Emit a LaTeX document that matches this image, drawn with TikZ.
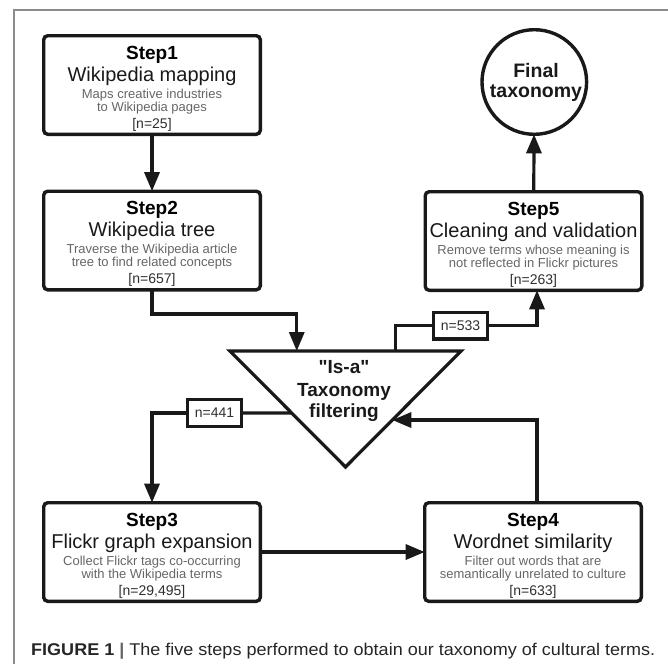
\documentclass[tikz,border=0pt]{standalone}
\usepackage{fontspec}
\setmainfont{Liberation Sans}[Ligatures=TeXOff]
\usetikzlibrary{arrows.meta,calc}

\definecolor{descgray}{gray}{0.4}
\definecolor{ngray}{gray}{0.18}
\definecolor{titlegray}{gray}{0.1}
\definecolor{framegray}{gray}{0.55}

\tikzset{
  stepbox/.style={draw=black!90, line width=3.4pt, rounded corners=4pt,
    minimum width=216.6pt, minimum height=98.6pt, inner sep=0pt, outer sep=0pt},
  lbl/.style={draw=black!90, line width=3.2pt, minimum width=53.8pt, minimum height=26.8pt,
    inner sep=0pt, outer sep=0pt, font=\fontsize{14}{14}\selectfont, text=ngray},
  conn/.style={line width=3.2pt, draw=black!90},
  arr/.style={conn, -{Triangle[length=19pt,width=15pt]}},
  tline/.style={anchor=base, inner sep=0pt, outer sep=0pt},
  stepfont/.style={font=\fontsize{19}{19}\selectfont\bfseries, text=black},
  titlefont/.style={font=\fontsize{20}{20}\selectfont, text=titlegray},
  descfont/.style={font=\fontsize{13}{13}\selectfont, text=descgray},
  nfont/.style={font=\fontsize{14}{14}\selectfont, text=ngray},
  boldfont/.style={font=\fontsize{19}{19}\selectfont\bfseries, text=titlegray},
}

% #1 name, #2 x, #3 y (centre), #4 step, #5 title, #6 desc line 1, #7 desc line 2, #8 count
\newcommand{\makestep}[8]{%
  \node[stepbox] (#1) at (#2,#3) {};
  \node[tline, stepfont] (#1st) at ($(#1.north)+(0,23.5)$) {#4};
  \node[tline, titlefont] (#1ti) at ($(#1.north)+(0,45.5)$) {#5};
  \node[tline, descfont] (#1da) at ($(#1.north)+(0,62.5)$) {#6};
  \node[tline, descfont] (#1db) at ($(#1.north)+(0,75.5)$) {#7};
  \node[tline, nfont] (#1n) at ($(#1.north)+(0,92.5)$) {#8};
}

\begin{document}
\begin{tikzpicture}[x=1pt,y=-1pt]
\useasboundingbox (0,0) rectangle (668,664);

% frame
\draw[framegray, line width=1.5pt] (14,664) -- (14,10) -- (668,10);

% step boxes
\makestep{s1}{152}{85}{Step1}{Wikipedia mapping}{Maps creative industries}{to Wikipedia pages}{[n=25]}
\makestep{s2}{152}{240.5}{Step2}{Wikipedia tree}{Traverse the Wikipedia article}{tree to find related concepts}{[n=657]}
\makestep{s3}{152}{552}{Step3}{Flickr graph expansion}{Collect Flickr tags co-occurring}{with the Wikipedia terms}{[n=29,495]}
\makestep{s4}{533}{552}{Step4}{Wordnet similarity}{Filter out words that are}{semantically unrelated to culture}{[n=633]}
\makestep{s5}{533.5}{241}{Step5}{Cleaning and validation}{Remove terms whose meaning is}{not reflected in Flickr pictures}{[n=263]}

% final circle
\node[draw=black!90, circle, line width=3.4pt, minimum size=104.6pt, inner sep=0pt, outer sep=0pt] (fin) at (534.3,82) {};
\node[tline, boldfont, font=\fontsize{19.5}{19.5}\selectfont\bfseries] (fina) at (536,77) {Final};
\node[tline, boldfont, font=\fontsize{19.5}{19.5}\selectfont\bfseries] (finb) at (536,97) {taxonomy};

% filtering triangle
\coordinate (tl) at (230,351);
\coordinate (tr) at (461,351);
\coordinate (tb) at (345.5,467);
\draw[conn, line join=miter] (tl) -- (tr) -- (tb) -- cycle;
\node[tline, boldfont] (tria) at (344,373) {"Is-a"};
\node[tline, boldfont] (trib) at (344,396) {Taxonomy};
\node[tline, boldfont] (tric) at (344,417) {filtering};

\coordinate (tin) at ($(tl)!0.289!(tr)$);
\coordinate (tout) at ($(tl)!0.716!(tr)$);
\coordinate (lout) at ($(tl)!0.535!(tb)$);
\coordinate (rin) at ($(tr)!0.595!(tb)$);
\coordinate (b2) at (152,314);

% count labels
\node[lbl] (l533) at (460.5,325.5) {n=533};
\node[lbl] (l441) at (214.5,413) {n=441};

% connectors
\draw[arr] (s1) -- (s2);
\draw[arr] (s2.south) -- (b2) -| (tin);
\draw[conn] (tout) |- (l533.west);
\draw[arr] (l533.east) -| ([xshift=3.5pt]s5.south);
\draw[arr] (s5) -- (fin);
\draw[conn] (lout) -- (l441.east);
\draw[arr] (l441.west) -| (s3.north);
\draw[arr] (s3) -- (s4);
\draw[arr] ([xshift=4pt]s4.north) |- (rin);

% caption
\node[anchor=base west, inner sep=0pt, font=\fontsize{17}{17}\selectfont, text=black!85] (cap) at (31,655)
  {\scalebox{1.06}[1]{\textbf{FIGURE 1} {\color{black!60}\textbf{|}} The five steps performed to obtain our taxonomy of cultural terms.}};
\end{tikzpicture}
\end{document}
